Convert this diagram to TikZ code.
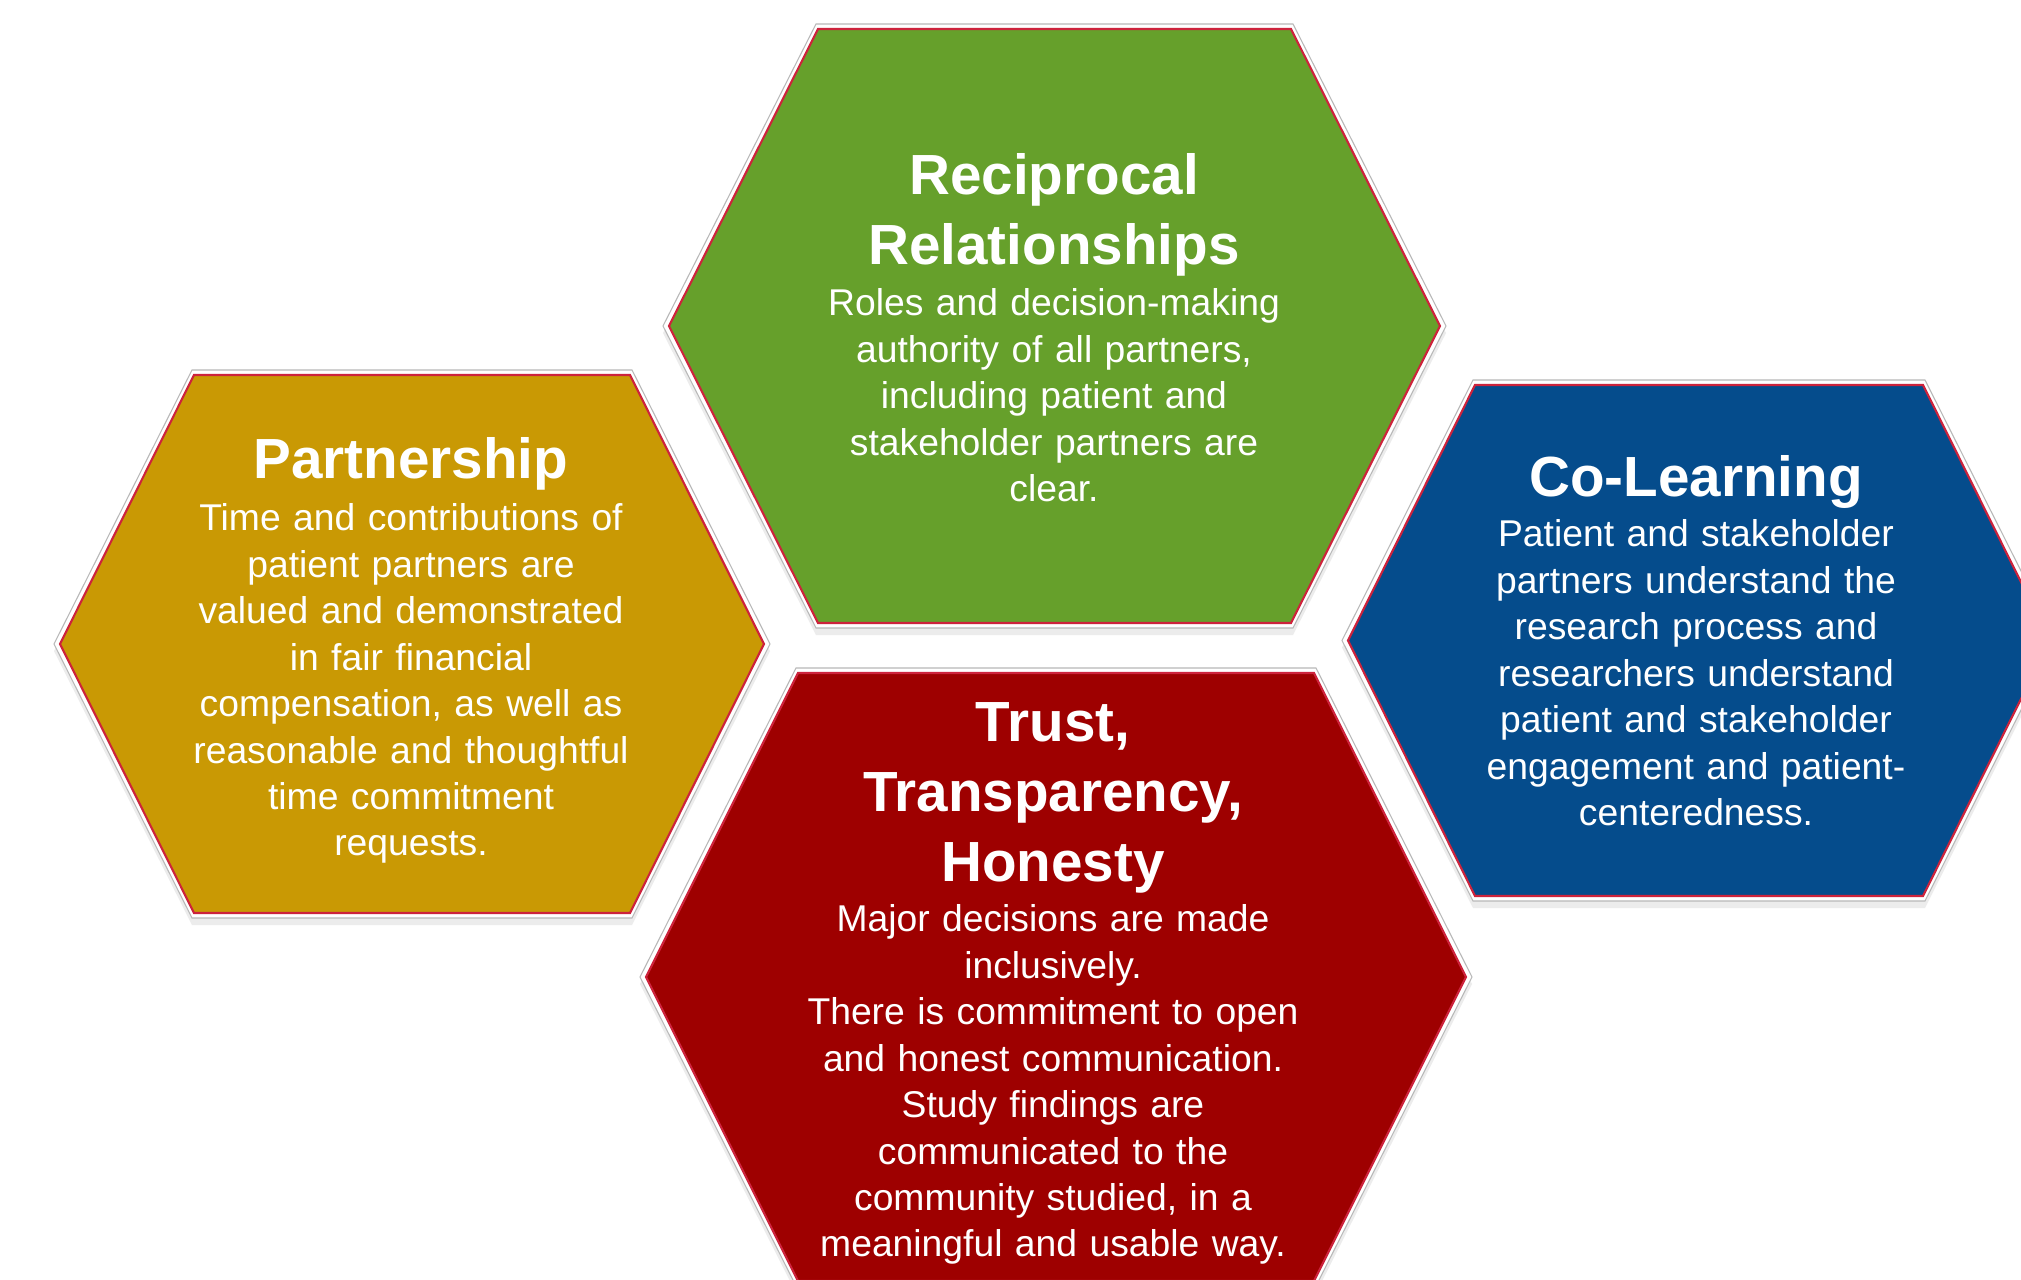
\documentclass[tikz,border=0pt]{standalone}
\usepackage{fontspec}
\setmainfont{Liberation Sans}
\usepackage{xcolor}
\usepackage{tikz}
\usetikzlibrary{shadows}
\definecolor{hexgold}{RGB}{201,153,4}
\definecolor{hexgreen}{RGB}{102,160,43}
\definecolor{hexblue}{RGB}{5,76,140}
\definecolor{hexred}{RGB}{158,0,0}
\definecolor{hexedge}{RGB}{205,35,60}
\tikzset{
    hexrim/.style = {fill=white, draw=black!28, line width=0.3pt,
        drop shadow={opacity=0.15, shadow xshift=0pt, shadow yshift=-2pt}},
    hexcore/.style = {draw=hexedge, line width=0.6pt},
    hextitle/.style = {anchor=base, inner sep=0pt, text=white, align=center,
        text width=9cm, font=\fontsize{16.1}{19.8}\selectfont\bfseries},
    hextext/.style = {anchor=base, inner sep=0pt, text=white, align=center,
        text width=9cm, font=\fontsize{10.6}{13.2}\selectfont},
}
% centre x, centre y, half width, half top width, half height, colour
\newcommand{\hexcell}[6]{
    \draw[hexrim] (#1-#3-6,#2) -- (#1-#4-2,#2-#5-5) -- (#1+#4+2,#2-#5-5)
        -- (#1+#3+6,#2) -- (#1+#4+2,#2+#5+5) -- (#1-#4-2,#2+#5+5) -- cycle;
    \draw[hexcore, fill=#6] (#1-#3,#2) -- (#1-#4,#2-#5) -- (#1+#4,#2-#5)
        -- (#1+#3,#2) -- (#1+#4,#2+#5) -- (#1-#4,#2+#5) -- cycle;
}

\begin{document}
\begin{tikzpicture}[x=0.01cm, y=-0.01cm]
    \useasboundingbox (0,0) rectangle (2021,1280);
    \clip (0,0) rectangle (2021,1280);
    \fill[white] (0,0) rectangle (2021,1280);

    \hexcell{412}{644}{352}{218}{269}{hexgold}
    \hexcell{1054.5}{326}{385.5}{236.5}{297}{hexgreen}
    \hexcell{1699}{640.5}{351}{224}{255.5}{hexblue}
    \hexcell{1056}{977}{410}{258}{304}{hexred}

    \node (recip_title) [hextitle] at (1054,195) {Reciprocal\\ Relationships};
    \node (recip_text) [hextext] at (1054,316) {Roles and decision-making\\
        authority of all partners,\\ including patient and\\
        stakeholder partners are\\ clear.};

    \node (partner_title) [hextitle] at (411,479) {Partnership};
    \node (partner_text) [hextext] at (411,531) {Time and contributions of\\
        patient partners are\\ valued and demonstrated\\ in fair financial\\
        compensation, as well as\\ reasonable and thoughtful\\
        time commitment\\ requests.};

    \node (colearn_title) [hextitle] at (1696,497) {Co-Learning};
    \node (colearn_text) [hextext] at (1696,547) {Patient and stakeholder\\
        partners understand the\\ research process and\\
        researchers understand\\ patient and stakeholder\\
        engagement and patient-\\ centeredness.};

    \node (trust_title) [hextitle] at (1053,742) {Trust,\\ Transparency,\\ Honesty};
    \node (trust_text) [hextext] at (1053,932) {Major decisions are made\\
        inclusively.\\ There is commitment to open\\
        and honest communication.\\ Study findings are\\
        communicated to the\\ community studied, in a\\
        meaningful and usable way.};
\end{tikzpicture}
\end{document}
